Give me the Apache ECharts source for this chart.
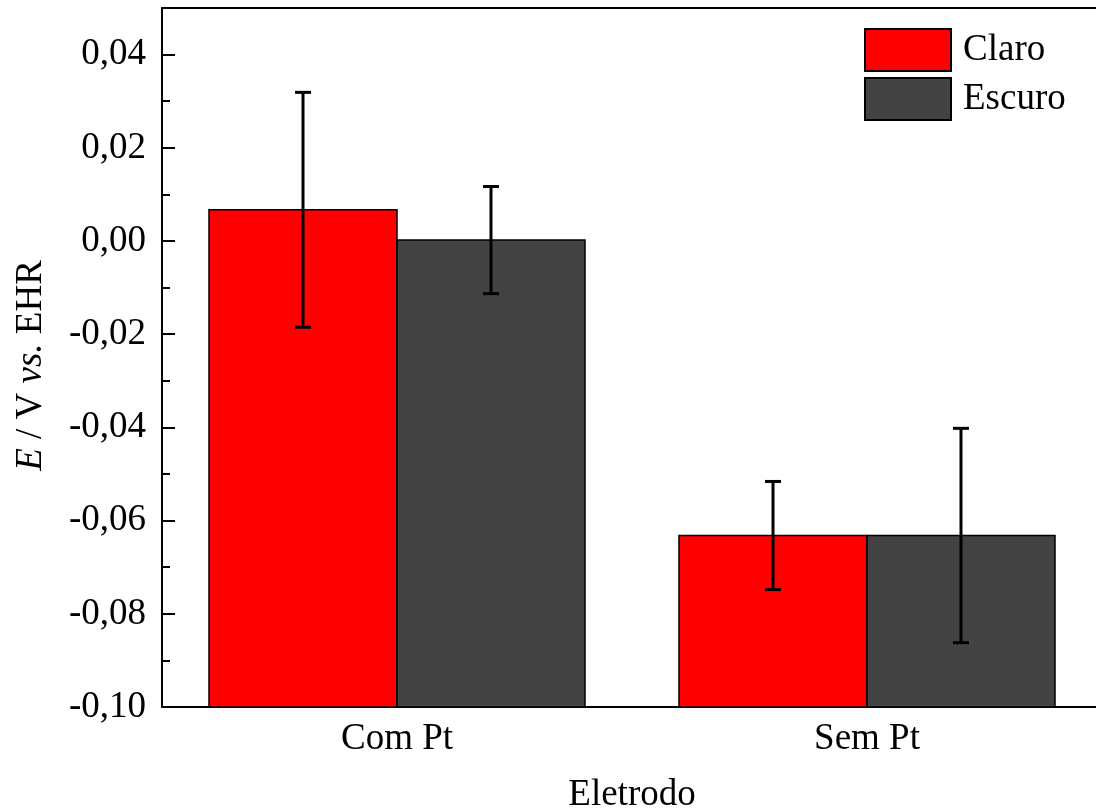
<!DOCTYPE html>
<html>
<head>
<meta charset="utf-8">
<script src="https://cdn.jsdelivr.net/npm/echarts@6/dist/echarts.min.js"></script>
<style>
html, body { margin: 0; padding: 0; background: #fff; overflow: hidden; }
#chart { width: 1096px; height: 811px; }
</style>
</head>
<body>
<div id="chart"></div>
<script>
// dados
var categorias = ['Com Pt', 'Sem Pt']
var claro = [0.0067, -0.0632]
var claroErro = [0.0252, 0.0116]
var escuro = [0.0002, -0.0632]
var escuroErro = [0.0115, 0.0230]

var yMin = -0.10
var yMax = 0.05
var fonte = 'Liberation Serif, Times New Roman, serif'
var corClaro = '#ff0000'
var corEscuro = '#434343'

// barras saem da base do eixo (-0,10), não do zero
function barras (k, cor) {
    return function (params, api) {
        var cat = api.value(0)
        var topo = api.coord([cat, api.value(1)])
        var base = api.coord([cat, yMin])
        var banda = api.size([1, 0])[0]
        var w = banda * 0.4
        return {
            type: 'rect',
            shape: { x: topo[0] - w + k * w, y: topo[1], width: w, height: base[1] - topo[1] },
            style: { fill: cor, stroke: '#000', lineWidth: 1.5 }
        }
    }
}

function erros (k) {
    return function (params, api) {
        var cat = api.value(0)
        var banda = api.size([1, 0])[0]
        var dx = (k === 0 ? -0.2 : 0.2) * banda
        var alto = api.coord([cat, api.value(1) + api.value(2)])
        var baixo = api.coord([cat, api.value(1) - api.value(2)])
        var x = alto[0] + dx
        var cap = 8
        var estilo = { stroke: '#000', lineWidth: 3 }
        return {
            type: 'group',
            children: [
                { type: 'line', shape: { x1: x, y1: alto[1], x2: x, y2: baixo[1] }, style: estilo },
                { type: 'line', shape: { x1: x - cap, y1: alto[1], x2: x + cap, y2: alto[1] }, style: estilo },
                { type: 'line', shape: { x1: x - cap, y1: baixo[1], x2: x + cap, y2: baixo[1] }, style: estilo }
            ]
        }
    }
}

function dados (medias, desvios) {
    return medias.map(function (v, i) { return [i, v, desvios[i]] })
}

var myChart = echarts.init(document.getElementById('chart'))
myChart.setOption({
    animation: false,
    textStyle: { fontFamily: fonte },
    grid: {
        left: 162,
        top: 8,
        right: -6,
        bottom: 104,
        containLabel: false,
        outerBoundsMode: 'none'
    },
    legend: {
        left: 864,
        top: 28,
        padding: 0,
        orient: 'vertical',
        itemWidth: 86,
        itemHeight: 42,
        itemGap: 5,
        icon: 'rect',
        textStyle: { fontFamily: fonte, fontSize: 37, lineHeight: 42, color: '#000', padding: [0, 0, 0, 7] },
        data: [
            { name: 'Claro', itemStyle: { color: corClaro, borderColor: '#000', borderWidth: 2 } },
            { name: 'Escuro', itemStyle: { color: corEscuro, borderColor: '#000', borderWidth: 2 } }
        ]
    },
    xAxis: [{
        type: 'category',
        data: categorias,
        name: 'Eletrodo',
        nameLocation: 'middle',
        nameGap: 70,
        nameTextStyle: { fontFamily: fonte, fontSize: 37, color: '#000' },
        axisLine: { onZero: false, lineStyle: { color: '#000', width: 2 } },
        axisTick: { show: false },
        axisLabel: { fontFamily: fonte, fontSize: 37, color: '#000', margin: 14 },
        splitLine: { show: false }
    }, {
        // linha de moldura no topo
        type: 'category',
        data: categorias,
        position: 'top',
        axisLine: { onZero: false, lineStyle: { color: '#000', width: 2 } },
        axisTick: { show: false },
        axisLabel: { show: false },
        splitLine: { show: false }
    }],
    yAxis: {
        type: 'value',
        min: yMin,
        max: yMax,
        interval: 0.02,
        name: '{i|E} / V {i|vs.} EHR',
        nameLocation: 'middle',
        nameRotate: 90,
        nameGap: 112,
        nameTextStyle: {
            fontFamily: fonte,
            fontSize: 37,
            color: '#000',
            padding: [0, 16, 0, 0],
            rich: { i: { fontFamily: fonte, fontSize: 37, fontStyle: 'italic', color: '#000' } }
        },
        axisLine: { show: true, onZero: false, lineStyle: { color: '#000', width: 2 } },
        axisTick: { show: true, inside: true, length: 13, lineStyle: { color: '#000', width: 2 } },
        minorTick: { show: true, splitNumber: 2, length: 8, lineStyle: { color: '#000', width: 2 } },
        axisLabel: {
            fontFamily: fonte,
            fontSize: 37,
            color: '#000',
            margin: 16,
            showMaxLabel: false,
            formatter: function (v) {
                return v.toFixed(2).replace('.', ',')
            }
        },
        splitLine: { show: false }
    },
    series: [
        { name: 'Claro', type: 'custom', renderItem: barras(0, corClaro), data: dados(claro, claroErro),
          itemStyle: { color: corClaro }, encode: { x: 0, y: 1 }, z: 2 },
        { name: 'Escuro', type: 'custom', renderItem: barras(1, corEscuro), data: dados(escuro, escuroErro),
          itemStyle: { color: corEscuro }, encode: { x: 0, y: 1 }, z: 2 },
        { name: 'erroClaro', type: 'custom', renderItem: erros(0), data: dados(claro, claroErro),
          encode: { x: 0, y: 1 }, z: 3 },
        { name: 'erroEscuro', type: 'custom', renderItem: erros(1), data: dados(escuro, escuroErro),
          encode: { x: 0, y: 1 }, z: 3 }
    ]
})
</script>
</body>
</html>
